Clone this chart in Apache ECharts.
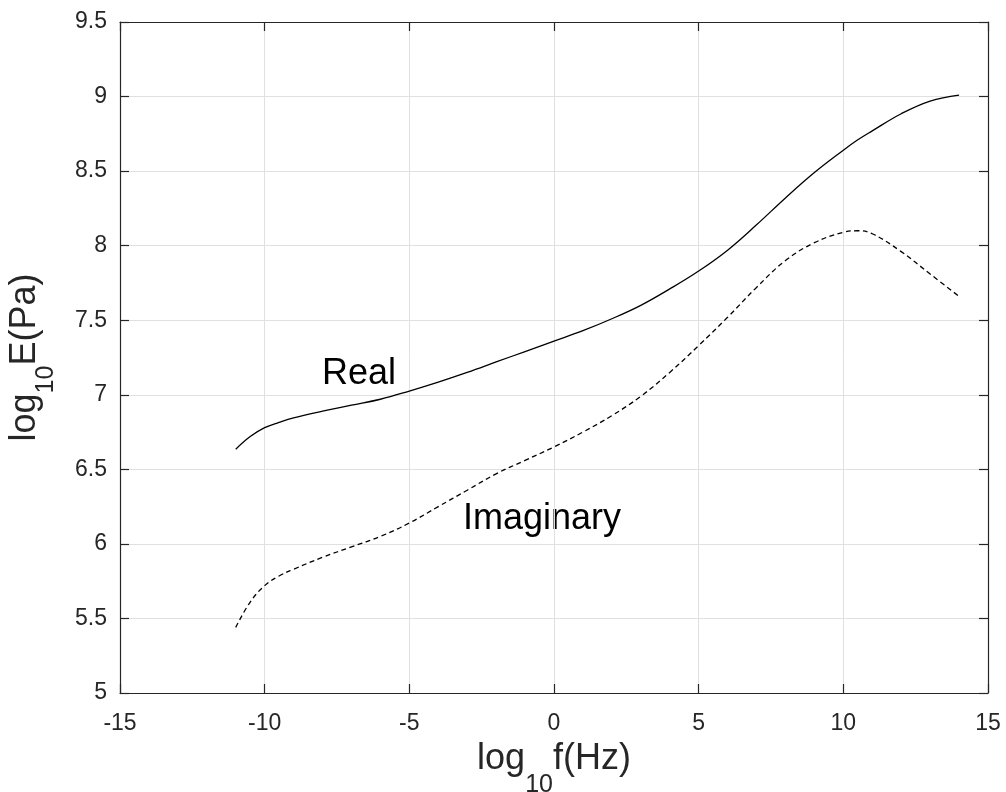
<!DOCTYPE html>
<html>
<head>
<meta charset="utf-8">
<script src="https://cdn.jsdelivr.net/npm/echarts@6/dist/echarts.min.js"></script>
<style>
  html, body { margin: 0; padding: 0; background: #fff; }
  #chart { width: 1006px; height: 792px; }
</style>
</head>
<body>
<div id="chart"></div>
<script>
// log10 f (Hz)
const freqs = [-11, -10.5, -10, -9.5, -9, -8, -7, -6, -5, -4, -3, -2, -1, 0, 1, 2, 3, 4, 5, 6, 7, 8, 9, 10, 10.5, 11, 12, 13, 14]
// log10 E (Pa), real part
const realValues = [6.635, 6.72, 6.78, 6.815, 6.845, 6.89, 6.93, 6.97, 7.025, 7.085, 7.15, 7.22, 7.29, 7.36, 7.43, 7.51, 7.6, 7.71, 7.83, 7.97, 8.14, 8.32, 8.49, 8.64, 8.71, 8.77, 8.885, 8.97, 9.01]
// log10 E (Pa), imaginary part
const imagValues = [5.44, 5.61, 5.72, 5.785, 5.83, 5.91, 5.98, 6.05, 6.14, 6.25, 6.36, 6.47, 6.56, 6.65, 6.75, 6.86, 6.99, 7.15, 7.33, 7.52, 7.72, 7.9, 8.02, 8.09, 8.1, 8.08, 7.96, 7.81, 7.66]

const xTicks = { min: -15, max: 15, interval: 5 }
const yTicks = { min: 5, max: 9.5, interval: 0.5 }

const fontFamily = '"Liberation Sans", Arial, Helvetica, sans-serif'
const axisColor = '#262626'
const gridColor = '#e0e0e0'

const chart = echarts.init(document.getElementById('chart'), null, { renderer: 'canvas' })

const tickStyle = {
  show: true,
  inside: true,
  length: 9,
  lineStyle: { color: axisColor, width: 1.2 },
}
const boxLine = { show: true, onZero: false, lineStyle: { color: axisColor, width: 1.2 } }

const pairs = (ys) => freqs.map((f, i) => [f, ys[i]])

chart.setOption({
  animation: false,
  backgroundColor: '#fff',
  grid: { left: 120, top: 22, right: 18, bottom: 99, containLabel: false, outerBoundsMode: 'none' },
  xAxis: [
    {
      type: 'value',
      position: 'bottom',
      ...xTicks,
      axisLine: boxLine,
      axisTick: tickStyle,
      axisLabel: {
        color: axisColor,
        fontSize: 23,
        fontFamily,
        margin: 19,
        showMinLabel: true,
        showMaxLabel: true,
      },
      splitLine: { show: true, lineStyle: { color: gridColor, width: 1 } },
      name: '{a|log}{b|10}{a|f(Hz)}',
      nameLocation: 'middle',
      nameGap: 28,
      nameTextStyle: {
        color: axisColor,
        rich: {
          a: { fontSize: 36, fontFamily, color: axisColor, lineHeight: 77 },
          b: { fontSize: 25, fontFamily, color: axisColor, lineHeight: 2, verticalAlign: 'bottom' },
        },
      },
    },
    {
      type: 'value',
      position: 'top',
      ...xTicks,
      axisLine: boxLine,
      axisTick: tickStyle,
      axisLabel: { show: false },
      splitLine: { show: false },
    },
  ],
  yAxis: [
    {
      type: 'value',
      position: 'left',
      ...yTicks,
      axisLine: boxLine,
      axisTick: tickStyle,
      axisLabel: {
        color: axisColor,
        fontSize: 23,
        fontFamily,
        margin: 13,
        showMinLabel: true,
        showMaxLabel: true,
      },
      splitLine: { show: true, lineStyle: { color: gridColor, width: 1 } },
      name: '{a|log}{b|10}{a|E(Pa)}',
      nameLocation: 'middle',
      nameGap: 61,
      nameTextStyle: {
        color: axisColor,
        rich: {
          a: { fontSize: 36, fontFamily, color: axisColor, lineHeight: 67 },
          b: { fontSize: 25, fontFamily, color: axisColor, lineHeight: 2, verticalAlign: 'bottom' },
        },
      },
    },
    {
      type: 'value',
      position: 'right',
      ...yTicks,
      axisLine: boxLine,
      axisTick: tickStyle,
      axisLabel: { show: false },
      splitLine: { show: false },
    },
  ],
  graphic: [
    {
      type: 'text',
      x: 359,
      y: 374,
      style: { text: 'Real', fontSize: 36, fontFamily, fill: '#000', align: 'center', verticalAlign: 'middle' },
    },
    {
      type: 'text',
      x: 542,
      y: 519,
      style: { text: 'Imaginary', fontSize: 36, fontFamily, fill: '#000', align: 'center', verticalAlign: 'middle' },
    },
  ],
  series: [
    {
      name: 'Real',
      type: 'line',
      smooth: 0.4,
      showSymbol: false,
      data: pairs(realValues),
      lineStyle: { color: '#000', width: 1.3 },
    },
    {
      name: 'Imaginary',
      type: 'line',
      smooth: 0.4,
      showSymbol: false,
      data: pairs(imagValues),
      lineStyle: { color: '#000', width: 1.3, type: [5, 3.5] },
    },
  ],
})
</script>
</body>
</html>
